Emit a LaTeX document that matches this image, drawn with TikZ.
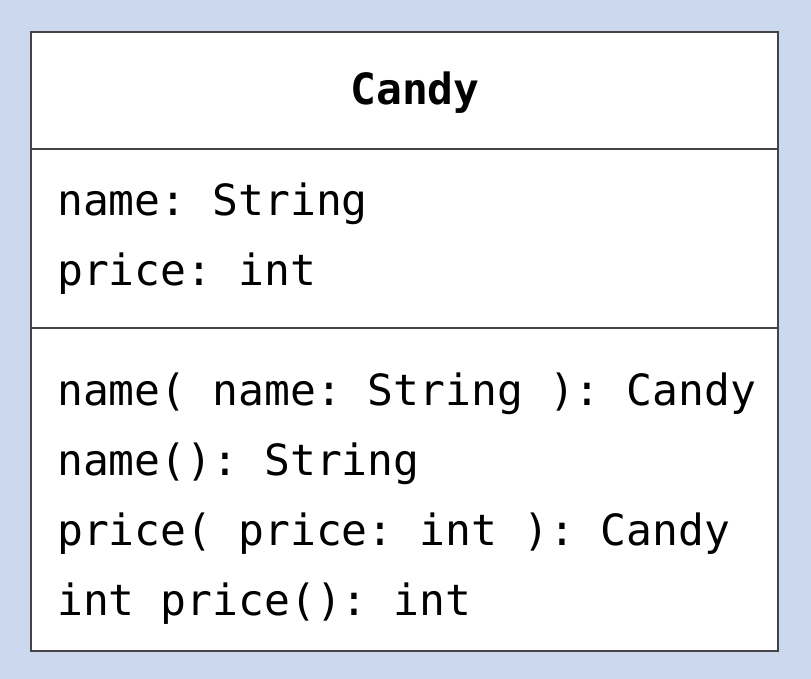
\documentclass[tikz,border=0pt]{standalone}
\usepackage{fontspec}
\setmonofont{DejaVu Sans Mono}
\definecolor{bgblue}{RGB}{203,216,238}
\definecolor{edge}{RGB}{68,68,68}
\tikzset{
  member/.style={anchor=base west, inner sep=0pt, font=\ttfamily\fontsize{43}{50}\selectfont},
  classname/.style={anchor=base, inner sep=0pt, font=\ttfamily\bfseries\fontsize{43}{50}\selectfont}
}
\begin{document}
\begin{tikzpicture}[x=1pt,y=-1pt]
			\fill[bgblue] (0,0) rectangle (811,679);
			\useasboundingbox (0,0) rectangle (811,679);
			
			\filldraw[fill=white, draw=edge, line width=2pt] (31,32) rectangle (778,651);
			\draw[edge, line width=2pt] (31,149) -- (778,149);
			\draw[edge, line width=2pt] (31,328) -- (778,328);
			
			\node[classname] (title) at (415,105) {Candy};
			
			\node[member] (a1) at (57,215) {name: String};
			\node[member] (a2) at (57,285) {price: int};
			
			\node[member] (m1) at (57,405) {name( name: String ): Candy};
			\node[member] (m2) at (57,475) {name(): String};
			\node[member] (m3) at (57,545) {price( price: int ): Candy};
			\node[member] (m4) at (57,615) {int price(): int};
		\end{tikzpicture}
\end{document}
